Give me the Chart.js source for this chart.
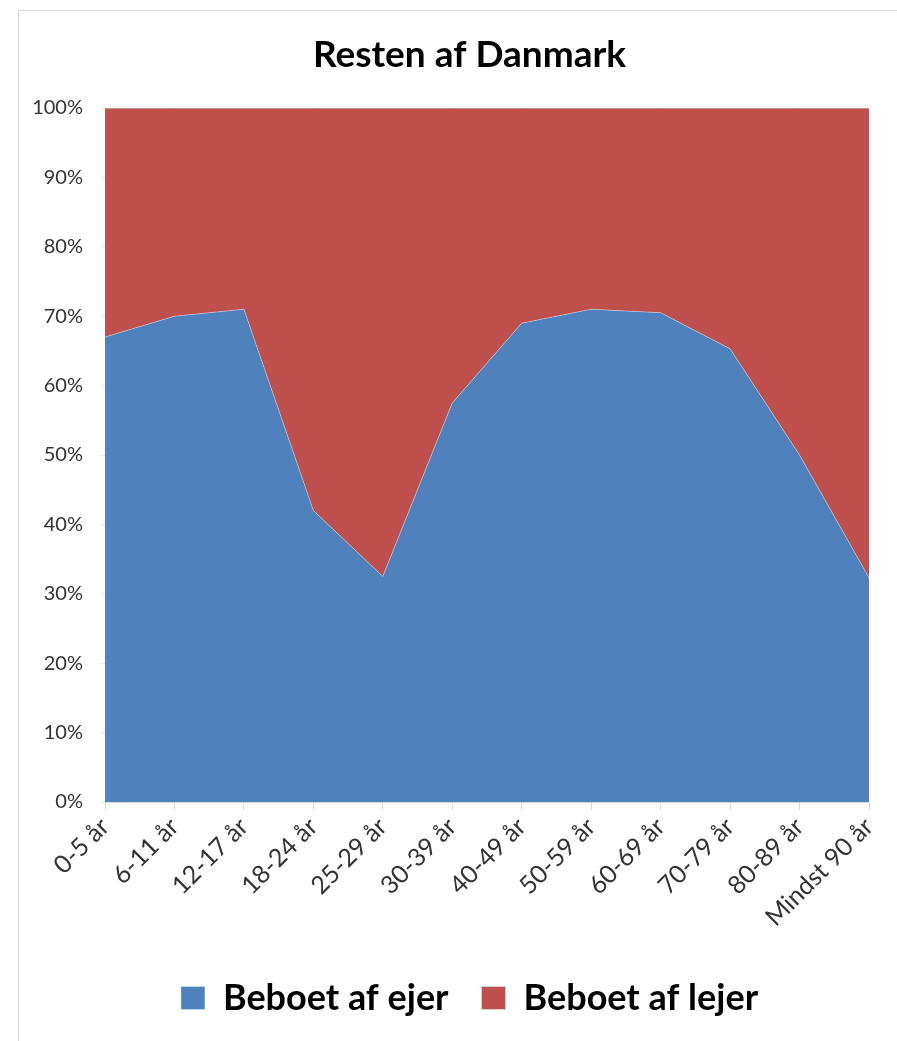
<!DOCTYPE html>
<html>
<head>
<meta charset="utf-8">
<script src="https://cdn.jsdelivr.net/npm/chart.js@4"></script>
<style>
    body { margin: 0; background: #fff; overflow: hidden; }
    #frame { position: absolute; left: 18px; top: 10px; width: 1000px; height: 1100px; border: 1.5px solid #d9d9d9; }
    #wrap { position: absolute; left: 0; top: 0; width: 897px; height: 1041px; }
</style>
</head>
<body>
<div id="frame"></div>
<div id="wrap"><canvas id="boligChart" width="897" height="1041"></canvas></div>
<script>
// Data
const ageGroups = ['0-5 år', '6-11 år', '12-17 år', '18-24 år', '25-29 år', '30-39 år',
    '40-49 år', '50-59 år', '60-69 år', '70-79 år', '80-89 år', 'Mindst 90 år'];
const ownerShare = [67, 70, 71, 42, 32.5, 57.5, 69, 71, 70.5, 65.3, 50, 32.3];
const renterShare = [33, 30, 29, 58, 67.5, 42.5, 31, 29, 29.5, 34.7, 50, 67.7];
const yTickStep = 10;

// y-aksens etiketter må gerne ligge uden for selve aksens kasse
const labelRoom = {
    id: 'labelRoom',
    afterLayout: function(chart) {
        chart.scales.y.left = 0;
    }
};

const ctx = document.getElementById('boligChart').getContext('2d');
const boligChart = new Chart(ctx, {
    type: 'line',
    data: {
        labels: ageGroups,
        datasets: [{
            label: 'Beboet af ejer',
            data: ownerShare,
            backgroundColor: '#4F81BD',
            borderColor: 'rgba(255, 255, 255, 0.35)',
            borderWidth: 1,
            fill: 'origin',
            pointRadius: 0,
            tension: 0
        }, {
            label: 'Beboet af lejer',
            data: renterShare,
            backgroundColor: '#C0504D',
            borderColor: '#d0d0d0',
            borderWidth: 1,
            fill: '-1',
            pointRadius: 0,
            tension: 0
        }]
    },
    plugins: [labelRoom],
    options: {
        responsive: false,
        animation: false,
        layout: {
            padding: { left: 70, right: 28, top: 0, bottom: 15 }
        },
        plugins: {
            title: {
                display: true,
                text: 'Resten af Danmark',
                color: '#000',
                font: { family: 'Lato', size: 37, weight: 'bold' },
                padding: { top: 33, bottom: 30.6 }
            },
            legend: {
                position: 'bottom',
                labels: {
                    color: '#000',
                    font: { family: 'Lato', size: 36, weight: 'bold' },
                    boxWidth: 24,
                    boxHeight: 23,
                    padding: 33
                }
            },
            tooltip: { enabled: false }
        },
        scales: {
            x: {
                offset: false,
                grid: {
                    display: true,
                    drawOnChartArea: false,
                    drawTicks: true,
                    tickLength: 8,
                    color: '#d9d9d9'
                },
                border: { display: true, color: '#d9d9d9' },
                ticks: {
                    color: '#333',
                    font: { family: 'Lato', size: 25 },
                    minRotation: 45,
                    maxRotation: 45,
                    padding: 2
                },
                afterFit: function(scale) {
                    scale.height = 145;
                }
            },
            y: {
                stacked: true,
                min: 0,
                max: 100,
                grid: {
                    display: true,
                    drawOnChartArea: false,
                    tickLength: 4,
                    color: '#e6e6e6'
                },
                border: { display: false },
                ticks: {
                    stepSize: yTickStep,
                    color: '#333',
                    font: { family: 'Lato', size: 20 },
                    padding: 18,
                    callback: function(value) { return value + '%'; }
                },
                afterFit: function(scale) {
                    scale.width = 35;
                }
            }
        }
    }
});
</script>
</body>
</html>
